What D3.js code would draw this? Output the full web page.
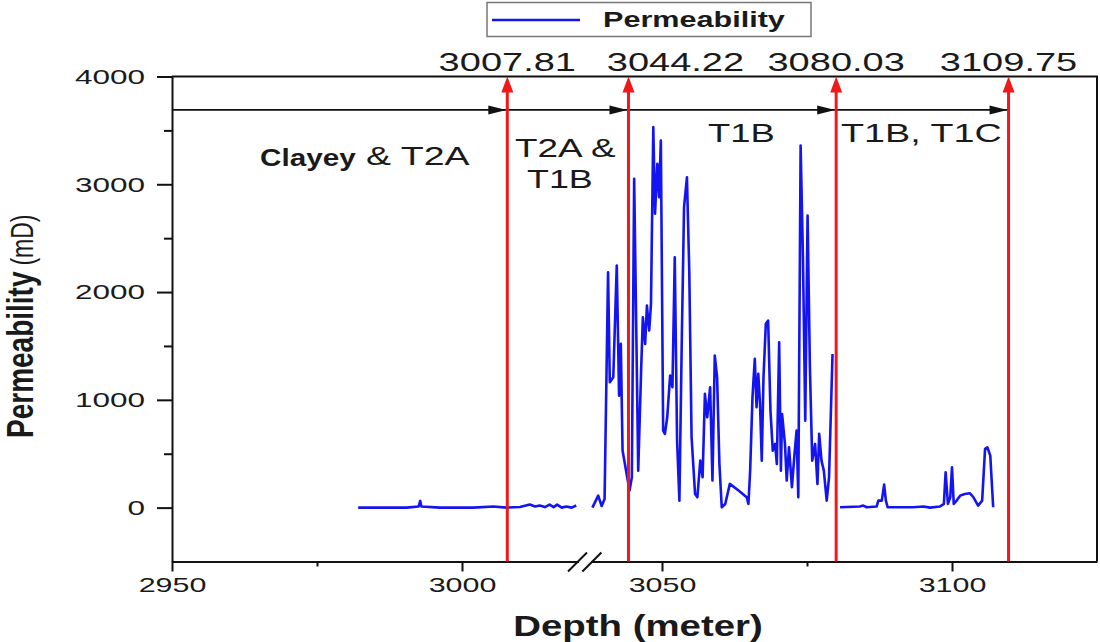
<!DOCTYPE html>
<html>
<head>
<meta charset="utf-8">
<script src="https://cdn.jsdelivr.net/npm/d3@7"></script>
<style>
  body { margin: 0; background: #fff; }
  text { font-family: "Liberation Sans", Arial, sans-serif; fill: #1a1a1a; }
</style>
</head>
<body>
<div id="viz"></div>
<script>
// Permeability log (three drawn pieces)
const leftDepth = [2982.1, 2990.5, 2992.5, 2992.8, 2993.0, 2996.2, 3001.9, 3005.4, 3007.7, 3010.0, 3011.7, 3012.6, 3013.4, 3014.3, 3015.1, 3015.8, 3016.4, 3017.2, 3018.0, 3018.9, 3019.7];
const leftPerm  = [0, 0, 10, 62, 10, 0, 0, 10, 0, 5, 28, 10, 20, 5, 28, 5, 28, 0, 10, 0, 20];

const midDepth = [3038.0, 3039.0, 3039.6, 3040.1, 3040.7, 3041.0, 3041.6, 3042.2, 3042.6, 3042.9, 3043.2, 3044.4, 3044.8, 3045.2, 3045.6, 3045.9, 3046.4, 3046.7, 3047.1, 3047.4, 3047.8, 3048.1, 3048.5, 3048.8, 3049.2, 3049.5, 3049.8, 3050.2, 3050.5, 3050.9, 3051.4, 3051.8, 3052.2, 3052.6, 3053.0, 3053.4, 3053.8, 3054.3, 3054.7, 3055.1, 3055.7, 3056.1, 3056.6, 3057.0, 3057.4, 3057.8, 3058.3, 3058.7, 3059.1, 3059.5, 3059.9, 3060.3, 3060.9, 3061.7, 3063.2, 3064.6, 3064.9, 3065.2, 3065.6, 3066.0, 3066.3, 3066.6, 3066.9, 3067.2, 3067.5, 3067.9, 3068.3, 3068.7, 3069.1, 3069.5, 3069.8, 3070.2, 3070.5, 3070.7, 3071.2, 3071.5, 3071.9, 3072.4, 3072.8, 3073.2, 3073.5, 3073.9, 3074.3, 3074.7, 3075.1, 3075.5, 3075.9, 3076.4, 3076.8, 3077.1, 3077.5, 3077.9, 3078.4, 3078.8, 3079.4];
const midPerm  = [0, 111, 15, 80, 2184, 1163, 1209, 2246, 1039, 1519, 529, 158, 281, 3050, 1519, 343, 1271, 1766, 1519, 1875, 1643, 1890, 3530, 2726, 3190, 2880, 3406, 715, 684, 838, 1225, 1117, 2323, 622, 65, 1519, 2787, 3065, 2200, 653, 127, 96, 436, 281, 1055, 838, 1117, 251, 1411, 1209, 405, 3, 34, 220, 158, 96, 34, 343, 1024, 1380, 931, 1241, 962, 436, 1209, 1705, 1735, 900, 529, 591, 405, 1534, 343, 869, 591, 251, 560, 189, 467, 715, 96, 3360, 2323, 807, 2710, 1302, 436, 591, 220, 684, 436, 343, 65, 281, 1426];

const rightDepth = [3080.7, 3084.1, 3084.7, 3085.3, 3087.0, 3087.3, 3087.9, 3088.3, 3088.6, 3088.9, 3090.5, 3093.3, 3095.1, 3096.2, 3097.9, 3098.6, 3098.9, 3099.3, 3099.7, 3100.0, 3100.3, 3100.8, 3101.4, 3102.2, 3103.1, 3103.7, 3104.5, 3105.2, 3105.7, 3106.1, 3106.6, 3107.1];
const rightPerm  = [3, 10, 19, 3, 10, 65, 65, 213, 65, 3, 3, 3, 10, 0, 10, 34, 328, 34, 96, 374, 34, 65, 111, 127, 133, 96, 19, 65, 545, 560, 483, 3];

// Zone boundaries (red markers) and the level of the black zone arrows
const markerDepths = [3007.81, 3044.22, 3080.03, 3109.75];
const markerLabels = ['3007.81', '3044.22', '3080.03', '3109.75'];
const arrowStart = 2950;
const arrowLevel = 3690;

// Axis ticks
const xMajorTicks = [2950, 3000, 3050, 3100];
const xMinorTicks = [2975, 3075];
const yMajorTicks = [0, 1000, 2000, 3000, 4000];
const yMinorTicks = [500, 1500, 2500, 3500];

const lineColor = '#1414f0';
const markerColor = '#f01818';
const markerLabelDx = [0, 47, 0, 0]; // second label is pushed right in the original

// Stretch text horizontally (the source figure is drawn wide)
const stretch = (sel, sx) => sel.each(function () {
  const w = this.getComputedTextLength();
  this.setAttribute('textLength', w * sx);
  this.setAttribute('lengthAdjust', 'spacingAndGlyphs');
});

const svg = d3.select('#viz')
  .append('svg')
    .attr('width', 1100)
    .attr('height', 642);

// Broken depth axis: both pieces share the same metres-per-pixel
const x = d3.scaleLinear()
  .domain([2950, 3020, 3038, 3125])
  .range([172, 578, 592.4, 1097]);
const y = d3.scaleLinear()
  .domain([-500, 4000])
  .range([561.5, 76.5]);

// Frame (top and right)
svg.append('path')
  .attr('d', `M${x.range()[0]},${y(4000)}H${x(3125)}V${y(-500)}`)
  .attr('fill', 'none')
  .attr('stroke', '#111')
  .attr('stroke-width', 2);

// x axis
const xAxisGroup = svg.append('g')
  .attr('class', 'x-axis-group')
  .attr('transform', `translate(0, ${y(-500)})`)
  .call(d3.axisBottom(x).tickValues(xMajorTicks).tickFormat(d3.format('d')).tickSize(10).tickSizeOuter(0).tickPadding(6));
svg.append('g')
  .attr('transform', `translate(0, ${y(-500)})`)
  .call(d3.axisBottom(x).tickValues(xMinorTicks).tickSize(5).tickFormat(''))
  .call(g => g.select('.domain').remove());
xAxisGroup.selectAll('text')
  .style('font-size', '21px')
  .attr('fill', '#1a1a1a')
  .call(stretch, 1.45);

// y axis
const yAxisGroup = svg.append('g')
  .attr('class', 'y-axis-group')
  .attr('transform', `translate(${x(2950)}, 0)`)
  .call(d3.axisLeft(y).tickValues(yMajorTicks).tickFormat(d3.format('d')).tickSize(15).tickSizeOuter(0).tickPadding(12));
svg.append('g')
  .attr('transform', `translate(${x(2950)}, 0)`)
  .call(d3.axisLeft(y).tickValues(yMinorTicks).tickSize(8).tickFormat(''))
  .call(g => g.select('.domain').remove());
yAxisGroup.selectAll('text')
  .style('font-size', '21px')
  .attr('fill', '#1a1a1a')
  .call(stretch, 1.5);

svg.selectAll('.domain, .tick line')
  .attr('stroke', '#111')
  .attr('stroke-width', 2);

// Axis break marks
const bx0 = x(3020), bx1 = x(3038), by = y(-500);
svg.append('rect')
  .attr('x', bx0 + 1).attr('y', by - 4)
  .attr('width', bx1 - bx0 - 2).attr('height', 8)
  .attr('fill', '#fff');
svg.append('g')
  .attr('stroke', '#111')
  .attr('stroke-width', 2)
  .selectAll('line')
  .data([bx0, bx1])
  .join('line')
    .attr('x1', d => d - 10).attr('y1', by + 10)
    .attr('x2', d => d + 9).attr('y2', by - 9);

// Axis titles
svg.append('text')
  .attr('x', 638)
  .attr('y', 636)
  .attr('text-anchor', 'middle')
  .style('font-size', '30px')
  .style('font-weight', 700)
  .attr('fill', '#111')
  .text('Depth (meter)')
  .call(stretch, 1.28);

const yTitle = svg.append('text')
  .attr('transform', 'translate(33, 438) scale(1.35, 1) rotate(-90)')
  .attr('fill', '#111');
yTitle.append('tspan')
  .style('font-size', '28px')
  .style('font-weight', 700)
  .text('Permeability');
yTitle.append('tspan')
  .attr('dx', 6)
  .style('font-size', '23px')
  .text('(mD)');

// Black zone arrows
svg.append('line')
  .attr('x1', x(arrowStart)).attr('x2', x(markerDepths[markerDepths.length - 1]))
  .attr('y1', y(arrowLevel)).attr('y2', y(arrowLevel))
  .attr('stroke', '#111')
  .attr('stroke-width', 1.8);
svg.append('g')
  .attr('fill', '#111')
  .selectAll('path')
  .data(markerDepths)
  .join('path')
    .attr('d', d => `M${x(d) - 1},${y(arrowLevel)}l-18,-4.5v9z`);

// Permeability curve
const line = d3.line()
  .x(d => x(d[0]))
  .y(d => y(d[1]));
svg.append('g')
  .attr('class', 'curve-group')
  .selectAll('path')
  .data([d3.zip(leftDepth, leftPerm), d3.zip(midDepth, midPerm), d3.zip(rightDepth, rightPerm)])
  .join('path')
    .attr('d', line)
    .attr('fill', 'none')
    .attr('stroke', lineColor)
    .attr('stroke-width', 2.6)
    .attr('stroke-linejoin', 'round');

// Red boundary arrows
const markers = svg.append('g').attr('class', 'markers-group');
markers.selectAll('line')
  .data(markerDepths)
  .join('line')
    .attr('x1', d => x(d)).attr('x2', d => x(d))
    .attr('y1', y(-500)).attr('y2', y(4000) + 12)
    .attr('stroke', markerColor)
    .attr('stroke-width', 3);
markers.selectAll('path')
  .data(markerDepths)
  .join('path')
    .attr('d', d => `M${x(d)},${y(4000)}l-6,16h12z`)
    .attr('fill', markerColor);
markers.selectAll('text')
  .data(markerDepths)
  .join('text')
    .attr('x', (d, i) => x(d) + markerLabelDx[i])
    .attr('y', 71)
    .attr('text-anchor', 'middle')
    .style('font-size', '25px')
    .text((d, i) => markerLabels[i])
    .call(stretch, 1.52);

// Zone names
const zoneText = [
  {t: 'Clayey', x: 260, y: 166, size: 23, bold: true, sx: 1.29},
  {t: '& T2A', x: 366, y: 165, size: 25, bold: false, sx: 1.5},
  {t: 'T2A &', x: 515, y: 157, size: 26, bold: false, sx: 1.42},
  {t: 'T1B', x: 527, y: 188, size: 26, bold: false, sx: 1.38},
  {t: 'T1B', x: 708, y: 142, size: 26, bold: false, sx: 1.4},
  {t: 'T1B, T1C', x: 841, y: 142, size: 26, bold: false, sx: 1.45}
];
svg.append('g')
  .selectAll('text')
  .data(zoneText)
  .join('text')
    .attr('x', d => d.x)
    .attr('y', d => d.y)
    .style('font-size', d => d.size + 'px')
    .style('font-weight', d => d.bold ? 700 : 400)
    .attr('fill', d => d.bold ? '#111' : '#1a1a1a')
    .text(d => d.t)
    .each(function (d) { d3.select(this).call(stretch, d.sx); });

// Legend
const legend = svg.append('g').attr('class', 'legend');
legend.append('rect')
  .attr('x', 487).attr('y', 2.5)
  .attr('width', 324).attr('height', 34)
  .attr('fill', '#fff')
  .attr('stroke', '#777')
  .attr('stroke-width', 1.5);
legend.append('line')
  .attr('x1', 492).attr('x2', 580)
  .attr('y1', 20).attr('y2', 20)
  .attr('stroke', lineColor)
  .attr('stroke-width', 2.6);
legend.append('text')
  .attr('x', 603)
  .attr('y', 27)
  .style('font-size', '22px')
  .style('font-weight', 700)
  .attr('fill', '#111')
  .text('Permeability')
  .call(stretch, 1.39);
</script>
</body>
</html>
